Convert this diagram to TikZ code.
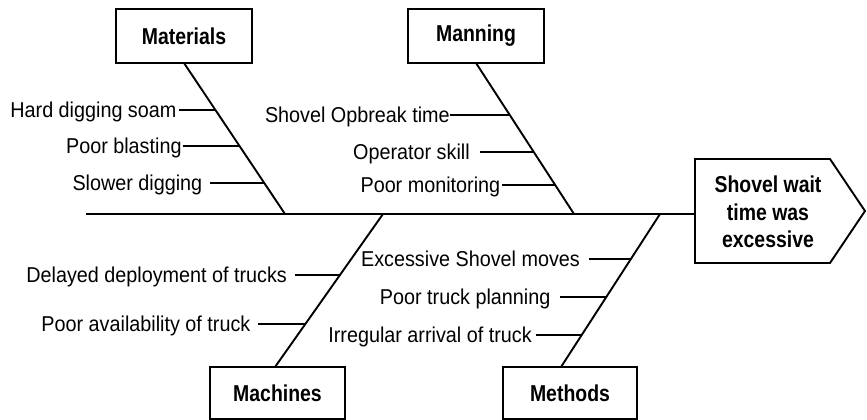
\documentclass[tikz,border=0pt]{standalone}
\usepackage{fontspec}
\setmainfont{Liberation Sans}[FakeStretch=0.92]
\newfontfamily\hdfont{Liberation Sans}[FakeStretch=0.845]
\begin{document}
\begin{tikzpicture}[x=1pt,y=-1pt,line width=1.9pt,
  cat/.style={draw,rectangle,minimum width=136pt,minimum height=54pt,inner sep=0pt,outer sep=0pt,
    font=\hdfont\bfseries\fontsize{23}{27.5}\selectfont},
  lbl/.style={font=\fontsize{21.5}{24}\selectfont,text height=15.4pt,text depth=0pt,inner sep=0pt,anchor=east},
  efftext/.style={font=\hdfont\bfseries\fontsize{23}{27.5}\selectfont,align=center,inner sep=0pt}]
\useasboundingbox (0,0) rectangle (867,420);
% category boxes
\node[cat] (mat) at (184,36) {Materials};
\node[cat] (man) at (476,36) {Manning};
\node[cat,minimum width=135pt,minimum height=52pt] (mac) at (277.5,393) {Machines};
\node[cat,minimum width=134pt,minimum height=52pt] (met) at (570,393) {Methods};
% effect
\node[minimum width=135pt,minimum height=104pt,inner sep=0pt,outer sep=0pt] (eff) at (762.5,211) {};
\draw (eff.north west) -- (eff.north east) -- ([xshift=35pt]eff.east) -- (eff.south east) -- (eff.south west) -- cycle;
\node[efftext] (efft) at (768,212) {Shovel wait\\time was\\excessive};
% spine
\coordinate (tail) at (86,214);
\coordinate (jmat) at (285,214);
\coordinate (jman) at (574,214);
\coordinate (jmac) at (383,214);
\coordinate (jmet) at (660,214);
\draw (tail) -- (eff.west |- tail);
% bones
\draw (mat.south) -- (jmat) coordinate[pos=0.311] (m1) coordinate[pos=0.55] (m2) coordinate[pos=0.795] (m3);
\draw (man.south) -- (jman) coordinate[pos=0.344] (n1) coordinate[pos=0.589] (n2) coordinate[pos=0.808] (n3);
\draw ([xshift=-2.5pt]mac.north) -- (jmac) coordinate[pos=0.601] (c1) coordinate[pos=0.281] (c2);
\draw ([xshift=-9pt]met.north) -- (jmet) coordinate[pos=0.706] (d1) coordinate[pos=0.458] (d2) coordinate[pos=0.209] (d3);
% causes
\node[lbl,outer xsep=3pt] (tm1) at ([xshift=-36pt]m1) {Hard digging soam};
\node[lbl,outer xsep=1pt] (tm2) at ([xshift=-57pt]m2) {Poor blasting};
\node[lbl,outer xsep=8pt] (tm3) at ([xshift=-54pt]m3) {Slower digging};
\node[lbl,outer xsep=0pt] (tn1) at ([xshift=-60pt]n1) {Shovel Opbreak time};
\node[lbl,outer xsep=10pt] (tn2) at ([xshift=-54pt]n2) {Operator skill};
\node[lbl,outer xsep=2pt] (tn3) at ([xshift=-53pt]n3) {Poor monitoring};
\node[lbl,outer xsep=8pt] (tc1) at ([xshift=-45pt]c1) {Delayed deployment of trucks};
\node[lbl,outer xsep=8pt] (tc2) at ([xshift=-47pt]c2) {Poor availability of truck};
\node[lbl,outer xsep=9pt] (td1) at ([xshift=-42pt]d1) {Excessive Shovel moves};
\node[lbl,outer xsep=10pt] (td2) at ([xshift=-46pt]d2) {Poor truck planning};
\node[lbl,outer xsep=4pt] (td3) at ([xshift=-46pt]d3) {Irregular arrival of truck};
\draw (tm1) -- (m1);
\draw (tm2) -- (m2);
\draw (tm3) -- (m3);
\draw (tn1) -- (n1);
\draw (tn2) -- (n2);
\draw (tn3) -- (n3);
\draw (tc1) -- (c1);
\draw (tc2) -- (c2);
\draw (td1) -- (d1);
\draw (td2) -- (d2);
\draw (td3) -- (d3);
\end{tikzpicture}
\end{document}
